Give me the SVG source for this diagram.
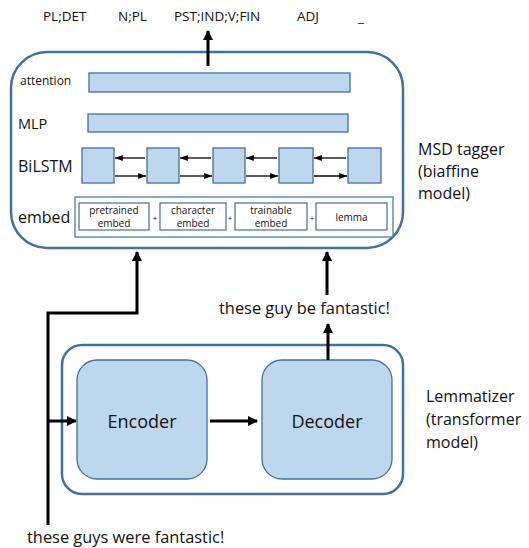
<svg xmlns="http://www.w3.org/2000/svg" width="529" height="548" viewBox="0 0 529 548">
  <style>
    text { font-family: "Open Sans", "Liberation Sans", sans-serif; fill: #111; }
    .outer { fill: #fff; stroke: #41719c; stroke-width: 2.5; }
    .blk { fill: #bdd7ee; stroke: #41719c; stroke-width: 1.3; }
    .emb { fill: #fff; stroke: #41719c; stroke-width: 1.2; }
    .thin { stroke: #000; stroke-width: 1.3; fill: none; }
    .thick { stroke: #000; stroke-width: 3; fill: none; }
    .small { font-size: 10px; }
  </style>
  <defs>
    <marker id="ah" viewBox="0 0 10 10" refX="9" refY="5" markerWidth="3.4" markerHeight="3.4" markerUnits="strokeWidth" orient="auto">
      <path d="M0,0 L10,5 L0,10 z" fill="#000"/>
    </marker>
    <marker id="ahs" viewBox="0 0 10 10" refX="10" refY="5" markerWidth="6" markerHeight="6" markerUnits="strokeWidth" orient="auto">
      <path d="M0,1 L10,5 L0,9 z" fill="#000"/>
    </marker>
  </defs>

  <!-- output tags -->
  <g id="tags" font-size="13.5">
    <text x="43" y="21">PL;DET</text>
    <text x="118" y="21">N;PL</text>
    <text x="174" y="21">PST;IND;V;FIN</text>
    <text x="297" y="21">ADJ</text>
    <text x="358" y="22">_</text>
  </g>

  <!-- MSD tagger -->
  <g id="msd-tagger">
    <rect class="outer" x="11" y="52" width="392" height="196" rx="36"/>
    <text x="418" y="155" font-size="16">MSD tagger</text>
    <text x="418" y="177" font-size="16">(biaffine</text>
    <text x="418" y="199" font-size="16">model)</text>
  </g>

  <g id="attention">
    <text x="20" y="85" font-size="12">attention</text>
    <rect class="blk" x="89" y="73" width="261" height="19"/>
  </g>

  <g id="mlp">
    <text x="18" y="129" font-size="14.5">MLP</text>
    <rect class="blk" x="88" y="114" width="260" height="18"/>
  </g>

  <g id="bilstm">
    <text x="18" y="172" font-size="16">BiLSTM</text>
    <rect class="blk" x="82" y="148" width="32" height="35"/>
    <rect class="blk" x="147" y="148" width="32" height="35"/>
    <rect class="blk" x="213" y="148" width="32" height="35"/>
    <rect class="blk" x="279" y="148" width="34" height="35"/>
    <rect class="blk" x="348" y="148" width="33" height="35"/>
  </g>

  <g id="embed">
    <text x="18" y="223" font-size="16">embed</text>
    <rect class="emb" x="75" y="197" width="318" height="40"/>
    <rect class="emb" x="79" y="203" width="70" height="27"/>
    <rect class="emb" x="160" y="203" width="66" height="27"/>
    <rect class="emb" x="235" y="203" width="72" height="27"/>
    <rect class="emb" x="316" y="203" width="71" height="27"/>
    <g class="small" text-anchor="middle">
      <text x="114" y="214">pretrained</text>
      <text x="114" y="227">embed</text>
      <text x="193" y="214">character</text>
      <text x="193" y="227">embed</text>
      <text x="271" y="214">trainable</text>
      <text x="271" y="227">embed</text>
      <text x="351.5" y="221">lemma</text>
      <text x="155" y="221" font-size="8">+</text>
      <text x="230" y="221" font-size="8">+</text>
      <text x="312" y="221" font-size="8">+</text>
    </g>
  </g>

  <!-- Lemmatizer -->
  <g id="lemmatizer">
    <rect class="outer" x="62" y="345" width="341" height="149" rx="20"/>
    <text x="426" y="402" font-size="16">Lemmatizer</text>
    <text x="426" y="425" font-size="16">(transformer</text>
    <text x="426" y="448" font-size="16">model)</text>
  </g>

  <g id="encoder">
    <rect class="blk" x="77" y="360" width="130" height="119" rx="20"/>
    <text x="142" y="428" font-size="18" text-anchor="middle">Encoder</text>
  </g>

  <g id="decoder">
    <rect class="blk" x="262" y="360" width="130" height="119" rx="20"/>
    <text x="327" y="428" font-size="18" text-anchor="middle">Decoder</text>
  </g>

  <g id="texts" font-size="16.4">
    <text x="219" y="314">these guy be fantastic!</text>
    <text x="27" y="543">these guys were fantastic!</text>
  </g>

  <!-- connectors -->
  <g id="connectors">
    <!-- BiLSTM backward -->
    <line class="thin" x1="145" y1="158" x2="115" y2="158" marker-end="url(#ahs)"/>
    <line class="thin" x1="211" y1="158" x2="180" y2="158" marker-end="url(#ahs)"/>
    <line class="thin" x1="277" y1="158" x2="246" y2="158" marker-end="url(#ahs)"/>
    <line class="thin" x1="346" y1="158" x2="314" y2="158" marker-end="url(#ahs)"/>
    <!-- BiLSTM forward -->
    <line class="thin" x1="115" y1="176" x2="146" y2="176" marker-end="url(#ahs)"/>
    <line class="thin" x1="180" y1="176" x2="212" y2="176" marker-end="url(#ahs)"/>
    <line class="thin" x1="246" y1="176" x2="278" y2="176" marker-end="url(#ahs)"/>
    <line class="thin" x1="314" y1="176" x2="347" y2="176" marker-end="url(#ahs)"/>

    <!-- tagger output -->
    <line class="thick" x1="208" y1="66" x2="208" y2="31" marker-end="url(#ah)"/>
    <!-- raw sentence to tagger and encoder -->
    <polyline class="thick" points="48,525 48,313 137,313 137,252" marker-end="url(#ah)"/>
    <line class="thick" x1="48" y1="421" x2="76" y2="421" marker-end="url(#ah)"/>
    <!-- encoder to decoder -->
    <line class="thick" x1="210" y1="421" x2="257" y2="421" marker-end="url(#ah)"/>
    <!-- decoder to lemmas -->
    <line class="thick" x1="328" y1="360" x2="328" y2="324" marker-end="url(#ah)"/>
    <!-- lemmas to tagger -->
    <line class="thick" x1="327" y1="295" x2="327" y2="252" marker-end="url(#ah)"/>
  </g>
</svg>
